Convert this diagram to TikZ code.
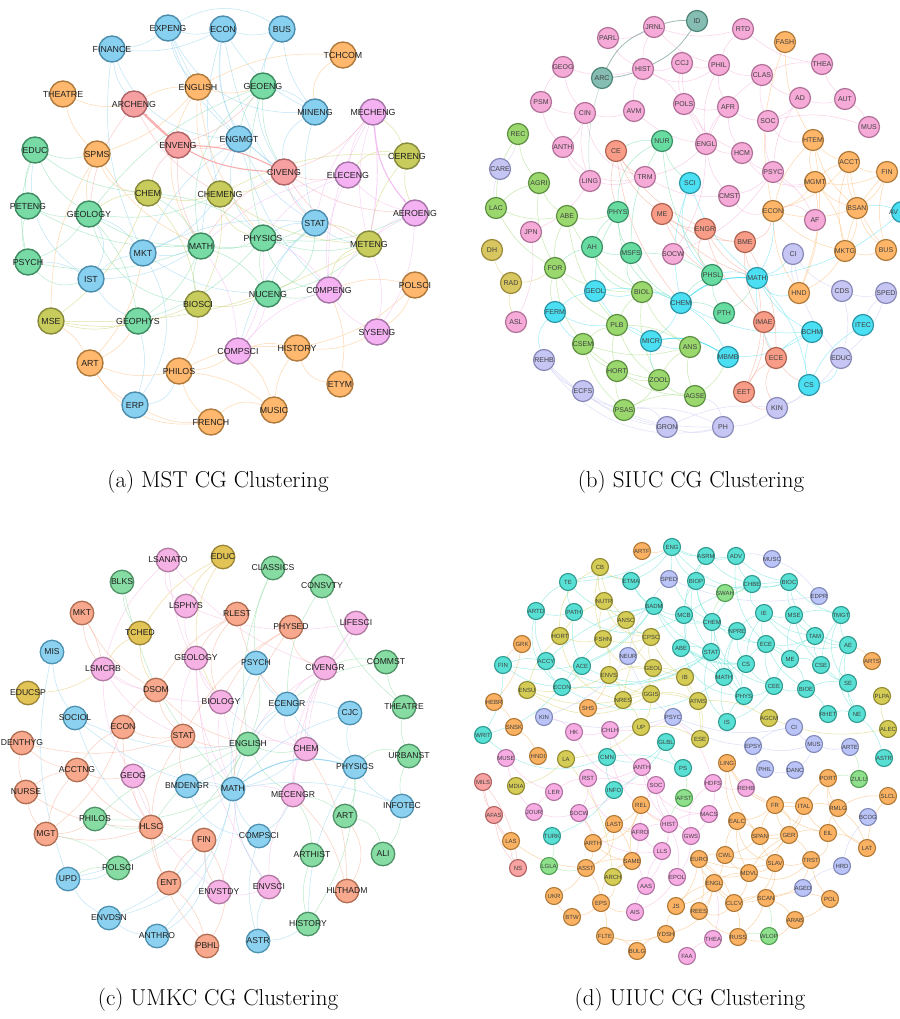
\documentclass[tikz,border=0pt]{standalone}
\usepackage{fontspec}
\newfontfamily\labf{Liberation Sans}
\usetikzlibrary{backgrounds,arrows.meta}
% panel a
\definecolor{aBf}{HTML}{88D0F0}\definecolor{aBd}{HTML}{4C8DAE}
\definecolor{aGf}{HTML}{78DBA6}\definecolor{aGd}{HTML}{3F8C62}
\definecolor{aOf}{HTML}{FFB86E}\definecolor{aOd}{HTML}{B07A3C}
\definecolor{aRf}{HTML}{F6A0A2}\definecolor{aRd}{HTML}{B06466}
\definecolor{aVf}{HTML}{F4B2F2}\definecolor{aVd}{HTML}{A674A6}
\definecolor{aYf}{HTML}{C8CC5C}\definecolor{aYd}{HTML}{878A3A}
% panel b
\definecolor{bPf}{HTML}{F6AAD8}\definecolor{bPd}{HTML}{B27198}
\definecolor{bTf}{HTML}{86BDB2}\definecolor{bTd}{HTML}{4E8578}
\definecolor{bOf}{HTML}{FFB668}\definecolor{bOd}{HTML}{B07A3A}
\definecolor{bSf}{HTML}{F89C88}\definecolor{bSd}{HTML}{B06452}
\definecolor{bMf}{HTML}{66DCA0}\definecolor{bMd}{HTML}{3C9068}
\definecolor{bCf}{HTML}{4ADFF2}\definecolor{bCd}{HTML}{2A98A8}
\definecolor{bGf}{HTML}{9AD86E}\definecolor{bGd}{HTML}{5E9042}
\definecolor{bLf}{HTML}{C6C6F4}\definecolor{bLd}{HTML}{8A8AB8}
\definecolor{bYf}{HTML}{D8C660}\definecolor{bYd}{HTML}{9A8A3A}
% panel c
\definecolor{cPf}{HTML}{F6B2E4}\definecolor{cPd}{HTML}{B07AA2}
\definecolor{cSf}{HTML}{F8A88C}\definecolor{cSd}{HTML}{B06E52}
\definecolor{cYf}{HTML}{E2C456}\definecolor{cYd}{HTML}{9C8636}
\definecolor{cGf}{HTML}{86DCA2}\definecolor{cGd}{HTML}{4E9266}
\definecolor{cBf}{HTML}{8CD2F0}\definecolor{cBd}{HTML}{4E90B0}
% panel d
\definecolor{dCf}{HTML}{58E0D4}\definecolor{dCd}{HTML}{2E9A90}
\definecolor{dYf}{HTML}{D4CC54}\definecolor{dYd}{HTML}{928A30}
\definecolor{dLf}{HTML}{BAC4F8}\definecolor{dLd}{HTML}{8088B8}
\definecolor{dOf}{HTML}{FAB262}\definecolor{dOd}{HTML}{B07834}
\definecolor{dPf}{HTML}{F8ACE4}\definecolor{dPd}{HTML}{B072A0}
\definecolor{dGf}{HTML}{8EE08C}\definecolor{dGd}{HTML}{50A052}
\definecolor{dSf}{HTML}{F8A2A2}\definecolor{dSd}{HTML}{B06262}
\newcommand\mynodes[5]{\foreach \n/\x/\y in {#5} {\node[#2, fill=#3f, draw=#3d, label={[#4]center:\n}] (#1-\n) at (\x,\y) {};}}
\newcommand\myedges[3]{\foreach \p/\q in {#3} {\draw[ed=#2] (#1-\p) to[bend right=15] (#1-\q);}}
\newcommand\myarcs[3]{\foreach \p/\q in {#3} {\draw[ed=#2] (#1-\p) to[bend right=32] (#1-\q);}}
\tikzset{
  na/.style={circle, minimum size=26pt, inner sep=0pt, line width=1.4pt},
  nb/.style={circle, minimum size=21pt, inner sep=0pt, line width=1.2pt},
  nc/.style={circle, minimum size=23.5pt, inner sep=0pt, line width=1.3pt},
  nd/.style={circle, minimum size=17pt, inner sep=0pt, line width=1.1pt},
  la/.style={font=\labf\fontsize{8.8}{9}\selectfont, text=black!88, inner sep=0pt},
  lb/.style={font=\labf\fontsize{7}{7}\selectfont, text=black!75, inner sep=0pt},
  lc/.style={font=\labf\fontsize{8.6}{9}\selectfont, text=black!88, inner sep=0pt},
  ld/.style={font=\labf\fontsize{6}{6}\selectfont, text=black!75, inner sep=0pt},
  ed/.style={draw=#1, line width=0.5pt, draw opacity=0.55},
  hl/.style={draw=#1, line width=1.1pt, draw opacity=0.85, -{Stealth[length=4pt,width=3pt]}},
  captxt/.style={font=\fontsize{23}{26}\selectfont, inner sep=0pt}
}
\begin{document}
\begin{tikzpicture}[x=1pt,y=-1pt]
\begin{scope}[on background layer]
\fill[white] (0,0) rectangle (899,1019);
\end{scope}
\useasboundingbox (0,0) rectangle (899,1019);
% ================= (a) =================
\mynodes{a}{na}{aB}{la}{EXPENG/168/28, ECON/223/29, BUS/282/29, FINANCE/112/49, MINENG/315/112, ENGMGT/239/139, STAT/315/223, MKT/143/253, IST/91/279, ERP/135/405}
\mynodes{a}{na}{aO}{la}{TCHCOM/343/55, THEATRE/63/94, ENGLISH/198/87, SPMS/97/154, POLSCI/415/285, HISTORY/297/348, ART/90/363, PHILOS/179/371, ETYM/340/384, MUSIC/274/410, FRENCH/211/422}
\mynodes{a}{na}{aG}{la}{GEOENG/263/86, EDUC/35/150, PETENG/28/206, GEOLOGY/89/214, PHYSICS/263/238, MATH/201/246, PSYCH/28/262, NUCENG/268/294, GEOPHYS/138/321}
\mynodes{a}{na}{aR}{la}{ARCHENG/134/104, ENVENG/178/145, CIVENG/284/172}
\mynodes{a}{na}{aV}{la}{MECHENG/373/112, ELECENG/348/175, AEROENG/415/213, COMPENG/329/290, SYSENG/377/332, COMPSCI/238/351}
\mynodes{a}{na}{aY}{la}{CERENG/407/156, CHEM/148/193, CHEMENG/220/194, METENG/369/244, BIOSCI/198/304, MSE/51/321}
% ================= (b) =================
\mynodes{b}{nb}{bP}{lb}{JRNL/654/27, RTD/743/29, PARL/608/38, GEOG/563/67, HIST/643/69, CCJ/682/63, PHIL/719/65, CLAS/762/75, THEA/822/64, PSM/541/102, AD/800/98, AUT/845/99, CIN/585/113, AVM/634/111, POLS/684/104, AFR/728/107, SOC/768/121, MUS/869/127, ANTH/563/147, ENGL/706/144, HCM/742/153, LING/590/181, TRM/645/177, PSYC/773/172, CMST/729/196, AF/815/220, JPN/531/232, SOCW/673/254, ASL/516/322}
\mynodes{b}{nb}{bT}{lb}{ID/697/21, ARC/602/78}
\mynodes{b}{nb}{bO}{lb}{FASH/785/42, HTEM/813/140, ACCT/849/162, FIN/887/172, MGMT/815/182, ECON/773/211, BSAN/857/208, MKTG/845/251, BUS/886/250, HND/799/293}
\mynodes{b}{nb}{bS}{lb}{CE/616/151, ME/662/214, ENGR/705/229, BME/745/242, IMAE/764/322, ECE/776/358, EET/744/392}
\mynodes{b}{nb}{bM}{lb}{NUR/662/141, PHYS/618/212, AH/592/247, MSFS/631/253, PHSL/712/275, PTH/724/313}
\mynodes{b}{nb}{bC}{lb}{SCI/690/183, GEOL/595/291, CHEM/681/303, MATH/757/278, FERM/555/312, MICR/651/341, BCHM/812/332, MBMB/728/357, CS/809/385, ITEC/863/325}
\node[nb, fill=bCf, draw=bCd] (b-AV) at (902,212) {};
\node[lb, anchor=west] (b-AVt) at (889,212) {AV};
\mynodes{b}{nb}{bG}{lb}{REC/518/134, AGRI/539/183, LAC/496/208, ABE/567/216, FOR/555/268, BIOL/642/292, PLB/617/325, CSEM/583/344, ANS/690/347, HORT/617/371, ZOOL/659/380, AGSE/695/396, PSAS/624/410}
\mynodes{b}{nb}{bL}{lb}{CARE/500/169, CI/793/254, CDS/842/291, SPED/886/293, EDUC/841/358, REHB/544/360, ECFS/583/391, KIN/777/408, GRON/667/427, PH/723/427}
\mynodes{b}{nb}{bY}{lb}{DH/492/250, RAD/511/283}
% ================= (c) =================
\mynodes{c}{nc}{cP}{lc}{LSANATO/168/560, LSPHYS/186/606, LIFESCI/356/623, GEOLOGY/196/658, CIVENGR/325/668, LSMCRB/103/669, BIOLOGY/221/702, CHEM/306/749, GEOG/133/776, MECENGR/293/795, ENVSTDY/219/892, ENVSCI/269/887}
\mynodes{c}{nc}{cY}{lc}{EDUC/223/557, TCHED/140/633, EDUCSP/28/693}
\mynodes{c}{nc}{cG}{lc}{CLASSICS/273/568, BLKS/122/582, CONSVTY/322/586, COMMST/386/662, THEATRE/404/707, ENGLISH/248/744, URBANST/409/756, ART/345/816, PHILOS/95/819, ARTHIST/312/855, ALI/383/854, POLSCI/118/868, HISTORY/308/924}
\mynodes{c}{nc}{cS}{lc}{MKT/82/613, RLEST/237/614, PHYSED/291/627, DSOM/156/690, ECON/123/727, STAT/183/736, DENTHYG/22/743, ACCTNG/77/770, NURSE/26/792, HLSC/151/827, MGT/46/834, FIN/204/840, ENT/169/883, HLTHADM/347/891, PBHL/207/946}
\mynodes{c}{nc}{cB}{lc}{MIS/52/652, PSYCH/256/663, ECENGR/287/704, CJC/350/713, SOCIOL/75/718, PHYSICS/355/767, BMDENGR/187/786, MATH/233/789, INFOTEC/402/806, COMPSCI/259/836, UPD/68/879, ENVDSN/109/918, ANTHRO/157/936, ASTR/258/941}
% ================= (d) =================
\mynodes{d}{nd}{dC}{ld}{ENG/672/547, TE/568/582, ETMA/631/581, BADM/654/606, ARTD/536/611, PATH/574/612, ACCY/546/661, ACE/582/666, FIN/503/665, ECON/562/687, WRIT/483/735, CMN/607/757, GLBL/666/742, INFO/614/790, TURK/552/836, ASRM/706/556, ADV/736/556, BIOP/696/581, CHBE/752/584, BIOC/789/582, MCB/684/615, IE/764/613, MSE/794/615, TMGT/841/615, CHEM/712/622, NPRE/737/631, TAM/815/636, AE/848/645, ECE/766/644, ABE/681/648, STAT/711/652, ME/790/659, CS/746/664, CSE/821/665, MATH/724/677, CEE/774/686, BIOE/806/689, SE/848/683, PHYS/744/696, IS/727/722, RHET/828/714, NE/857/714, PS/683/768, ASTR/884/758}
\mynodes{d}{nd}{dY}{ld}{CB/600/567, NUTR/604/601, ANSC/626/620, HORT/560/636, FSHN/603/639, CPSC/651/637, GEOL/653/668, ENVS/609/675, ENSU/527/690, NRES/623/700, GGIS/651/694, UP/641/727, LA/566/759, MDIA/516/786, ARCH/613/877, IB/685/677, ATMS/698/701, AGCM/769/718, PLPA/882/696, ALEC/888/729, ESE/700/739}
\mynodes{d}{nd}{dL}{ld}{SPED/669/579, NEUR/628/656, KIN/544/717, PSYC/673/717, MUSC/772/559, EDPR/819/596, CI/794/727, EPSY/753/746, MUS/814/744, ARTE/850/747, PHIL/765/769, DANC/795/770, BCOG/868/817, HRD/842/866, AGED/803/888}
\mynodes{d}{nd}{dO}{ld}{ARTF/642/551, GRK/522/644, HEBR/494/702, SHS/588/708, SNSK/514/727, HNDI/538/756, REL/641/805, LAST/614/824, ARTH/593/843, LAS/511/841, SAME/632/861, ASST/586/868, UKR/554/896, EPS/601/903, BTW/572/917, FLTE/605/936, YDSH/666/934, BULG/637/951, JS/676/906, ARTS/872/661, LING/727/763, PORT/828/778, SLCL/888/796, FR/775/805, ITAL/804/806, RMLG/838/808, EALC/737/821, SPAN/760/836, GER/789/835, EIL/828/833, LAT/867/848, EURO/699/859, CWL/725/855, SLAV/775/863, TRST/811/860, MDVL/749/873, ENGL/714/883, POL/830/899, SCAN/766/898, CLCV/734/903, REES/699/911, ARAB/795/920, RUSS/738/937}
\mynodes{d}{nd}{dP}{ld}{HK/574/732, CHLH/610/730, MUSE/506/758, RST/588/778, LER/554/792, JOUR/534/812, SOCW/579/813, ANTH/642/767, SOC/656/785, AFRO/640/832, HIST/669/824, LLS/662/851, AAS/646/886, AIS/635/912, EPOL/677/877, HDFS/713/783, REHB/746/788, MACS/709/814, GWS/691/836, THEA/713/939, FAA/687/956}
\mynodes{d}{nd}{dG}{ld}{SWAH/725/593, LGLA/549/866, AFST/684/798, ZULU/859/779, WLOP/769/936}
\mynodes{d}{nd}{dS}{ld}{MILS/483/782, AFAS/494/815, NS/518/868}
% ================= captions =================
\node[captxt] (capa) at (218,482) {(a) MST CG Clustering};
\node[captxt] (capb) at (691,482) {(b) SIUC CG Clustering};
\node[captxt] (capc) at (218,1000) {(c) UMKC CG Clustering};
\node[captxt] (capd) at (690,1000) {(d) UIUC CG Clustering};
% ================= edges =================
\begin{scope}[on background layer]
% (a)
\myedges{a}{aBf}{EXPENG/ECON, ECON/BUS, FINANCE/EXPENG, FINANCE/ARCHENG, ECON/ENGMGT, ECON/MINENG, BUS/MINENG, EXPENG/ENGMGT, EXPENG/CIVENG, ENGMGT/STAT, STAT/MKT, MKT/IST, IST/PSYCH, MKT/MATH, STAT/PHYSICS, ERP/GEOPHYS, MKT/GEOLOGY, STAT/NUCENG, ENGMGT/MATH, MINENG/GEOENG, ECON/CHEMENG, BUS/GEOENG, STAT/COMPSCI, IST/MATH, MKT/CHEMENG, FINANCE/ECON, FINANCE/MKT, ENGMGT/MKT, MINENG/STAT, EXPENG/ENGLISH, ECON/STAT, IST/GEOPHYS, MKT/NUCENG, STAT/METENG, ENGMGT/COMPENG}
\myarcs{a}{aBf}{EXPENG/MINENG, ECON/CIVENG, BUS/CIVENG, FINANCE/ENGMGT, ENGMGT/PHYSICS, MINENG/CIVENG, IST/GEOLOGY, ERP/MKT, ERP/PHILOS, EDUC/IST}
\draw[ed=aBf] (a-EXPENG) to[bend left=30] (a-BUS);
\myedges{a}{aOf}{TCHCOM/ENGLISH, THEATRE/SPMS, SPMS/ENGLISH, ENGLISH/ARCHENG, HISTORY/POLSCI, HISTORY/SYSENG, POLSCI/COMPENG, HISTORY/MUSIC, HISTORY/PHILOS, PHILOS/FRENCH, ART/PHILOS, ERP/FRENCH, ART/MSE, ETYM/COMPENG, MUSIC/PHILOS, SPMS/GEOLOGY, ART/GEOPHYS, PHILOS/COMPSCI, HISTORY/COMPSCI, THEATRE/ARCHENG, SPMS/MSE, ENGLISH/CHEMENG, ENGLISH/GEOENG, SYSENG/POLSCI, ART/ERP, MUSIC/COMPSCI, ART/MKT, SPMS/MATH, ENGLISH/PHYSICS, PHILOS/BIOSCI}
\myarcs{a}{aOf}{TCHCOM/MINENG, HISTORY/ETYM, MUSIC/FRENCH, ART/FRENCH, ENGLISH/MATH, SPMS/CHEM}
\myedges{a}{aGf}{EDUC/PETENG, EDUC/SPMS, EDUC/GEOLOGY, PETENG/GEOLOGY, PSYCH/GEOLOGY, PETENG/PSYCH, GEOLOGY/MATH, MATH/PHYSICS, PHYSICS/NUCENG, MATH/BIOSCI, GEOPHYS/GEOLOGY, GEOPHYS/MATH, GEOENG/ENGMGT, GEOENG/CIVENG, NUCENG/MATH, PHYSICS/CHEM, MATH/CHEM, GEOENG/GEOLOGY, NUCENG/COMPENG, PHYSICS/METENG, MATH/STAT, GEOLOGY/CHEMENG, PSYCH/MATH, GEOPHYS/PHYSICS, EDUC/CHEM, PHYSICS/AEROENG, PETENG/MATH, GEOENG/PHYSICS, NUCENG/METENG, EDUC/PSYCH}
\myarcs{a}{aGf}{GEOENG/MATH, PHYSICS/STAT, NUCENG/STAT, PHYSICS/COMPENG, PSYCH/IST, GEOLOGY/BIOSCI}
\myedges{a}{aRf}{ENVENG/ENGMGT, CIVENG/MECHENG, CIVENG/ELECENG, CIVENG/STAT, CIVENG/METENG, ENVENG/CHEM, ARCHENG/GEOLOGY, CIVENG/MATH, ENVENG/MATH, ARCHENG/CHEMENG, CIVENG/AEROENG, ENVENG/GEOENG}
\myedges{a}{aVf}{MECHENG/ELECENG, MECHENG/COMPENG, ELECENG/COMPENG, AEROENG/METENG, COMPENG/SYSENG, COMPENG/COMPSCI, COMPSCI/MATH, COMPSCI/PHYSICS, ELECENG/AEROENG, SYSENG/AEROENG, MECHENG/METENG, COMPSCI/NUCENG, ELECENG/PHYSICS, COMPENG/PHYSICS, MECHENG/STAT, ELECENG/MATH, AEROENG/COMPENG, SYSENG/METENG}
\myedges{a}{aYf}{CERENG/METENG, CERENG/AEROENG, CHEM/CHEMENG, CHEMENG/METENG, MSE/CHEM, BIOSCI/CHEM, MSE/BIOSCI, MSE/GEOPHYS, CERENG/MECHENG, CHEMENG/CIVENG, BIOSCI/CHEMENG, CERENG/CHEMENG, MSE/METENG, CHEM/GEOLOGY, BIOSCI/NUCENG, METENG/STAT}
\myarcs{a}{aYf}{CHEMENG/PHYSICS, CERENG/ELECENG, METENG/COMPENG}
\draw[hl=aRf] (a-ARCHENG) to[bend right=22] (a-CIVENG);
\draw[hl=aRf] (a-ENVENG) -- (a-ARCHENG);
\draw[hl=aRf] (a-CIVENG) to[bend right=12] (a-ENVENG);
\draw[hl=aVf] (a-MECHENG) to[bend right=18] (a-AEROENG);
\draw[ed=aVf, line width=0.9pt] (a-MECHENG) to[bend left=8] (a-METENG);
% (b)
\myedges{b}{bPf}{JRNL/HIST, JRNL/RTD, PARL/HIST, GEOG/HIST, HIST/CCJ, CCJ/PHIL, PHIL/CLAS, CLAS/AD, AD/AUT, THEA/CLAS, POLS/AFR, POLS/HIST, AFR/SOC, SOC/PSYC, ENGL/HCM, ENGL/POLS, ENGL/CMST, HCM/PSYC, PSM/CIN, PSM/ANTH, ANTH/LING, CIN/AVM, AVM/ENGL, LING/TRM, TRM/CMST, PHIL/AFR, CCJ/POLS, SOC/AD, MUS/AUT, RTD/PHIL, GEOG/CIN, JPN/LING, ASL/JPN, SOCW/PSYC, AF/PSYC, CMST/PSYC, HIST/AVM, CCJ/ENGL, PHIL/ENGL, RTD/THEA, AFR/ENGL, THEA/AUT, MUS/SOC, JRNL/PHIL, GEOG/PSM, CIN/LING, POLS/HCM, CLAS/SOC, AFR/HCM, ANTH/CIN, PARL/JRNL, TRM/ENGL, SOCW/ENGL, CLAS/ENGL, AD/PSYC}
\myarcs{b}{bPf}{PSYC/MGMT, AF/ECON, SOC/HTEM, CMST/ECON, HCM/MGMT, HIST/PHIL, CIN/TRM, ANTH/TRM}
\myedges{b}{bOf}{FASH/HTEM, HTEM/ACCT, HTEM/MGMT, ACCT/FIN, ACCT/MGMT, MGMT/BSAN, BSAN/FIN, BSAN/BUS, MKTG/BUS, MKTG/MGMT, MKTG/BSAN, ECON/MGMT, ECON/ACCT, ECON/BSAN, HND/HTEM, HND/MGMT, FIN/BUS, ACCT/BSAN, ECON/MKTG, HTEM/ECON, FIN/MKTG, ACCT/BUS, MGMT/FIN, HND/MKTG, ECON/HND, HTEM/BSAN, FASH/ECON, ACCT/MKTG}
\myedges{b}{bSf}{CE/ME, ME/ENGR, ENGR/BME, BME/IMAE, IMAE/ECE, ECE/EET, CE/ENGR, ME/BME, ECE/BME, EET/IMAE, CE/PHYS, ME/MATH, ENGR/MATH, ECE/CS, CE/CHEM, ENGR/IMAE, BME/MATH, EET/MATH, CE/TRM, ME/PHSL}
\myarcs{b}{bSf}{BME/ECON, ENGR/PHSL, EET/KIN, ECE/KIN}
\myedges{b}{bMf}{NUR/PHSL, PHYS/AH, AH/MSFS, PHSL/PTH, PHSL/CHEM, PTH/MATH, NUR/MSFS, PHYS/MSFS, PHSL/MSFS, AH/FOR, NUR/SCI, PTH/CHEM, MSFS/CHEM, PHYS/GEOL, NUR/CE}
\myarcs{b}{bMf}{PHYS/CHEM, AH/BIOL, MSFS/BIOL, NUR/PHYS}
\myedges{b}{bCf}{SCI/CHEM, MATH/BCHM, BCHM/CS, MICR/CHEM, CHEM/GEOL, GEOL/FERM, FERM/PLB, MBMB/BCHM, MATH/PHSL, CHEM/BCHM, MATH/ECE, CS/MATH, ITEC/CS, MICR/PLB, CHEM/BIOL, GEOL/BIOL, MICR/ANS, MBMB/CHEM, MATH/ECON, AV/BSAN, MATH/CI, SCI/MATH, FERM/CSEM, MICR/ZOOL, BCHM/ECE, GEOL/MICR, MATH/AV}
\myarcs{b}{bCf}{SCI/PHSL, CS/EDUC, MATH/HND, FERM/REHB}
\myedges{b}{bGf}{REC/AGRI, REC/LAC, AGRI/ABE, LAC/ABE, AGRI/LAC, ABE/FOR, FOR/FERM, FOR/BIOL, BIOL/PLB, PLB/CSEM, PLB/HORT, CSEM/HORT, HORT/ZOOL, ZOOL/AGSE, HORT/PSAS, PSAS/ZOOL, CSEM/PSAS, ANS/ZOOL, ANS/PLB, AGSE/PSAS, PLB/ZOOL, ANS/AGSE, BIOL/ZOOL, CSEM/ZOOL, FOR/PLB, ABE/PLB, AGRI/FOR, LAC/FOR, ABE/BIOL, CSEM/ANS, HORT/AGSE, BIOL/ANS, FOR/CSEM, ABE/PHYS, AGSE/MBMB}
\myedges{b}{bLf}{REHB/ECFS, ECFS/GRON, GRON/PH, PH/KIN, KIN/EDUC, EDUC/CDS, CDS/SPED, SPED/ITEC, CI/CDS, CI/EDUC, CI/HND, EDUC/SPED, REHB/GRON, KIN/GRON, ECFS/PH, CARE/LAC, CARE/REC, REHB/PSAS, KIN/CS, PH/PSAS}
\myarcs{b}{bLf}{GRON/PSAS, PH/AGSE, REHB/PH}
\myedges{b}{bYf}{DH/RAD, RAD/FOR, RAD/ASL}
\draw[ed=bTd, line width=0.8pt] (b-ID) to[bend right=10] (b-JRNL);
\draw[ed=bTd, line width=0.8pt] (b-ID) to[bend left=15] (b-HIST);
\draw[ed=bTd, line width=0.8pt] (b-ARC) to[bend right=8] (b-HIST);
\draw[ed=bTd, line width=0.8pt] (b-ARC) to[bend left=20] (b-JRNL);
\draw[ed=bTf] (b-ARC) to[bend right=10] (b-LING);
\draw[ed=bCf, line width=1pt, draw opacity=0.85] (b-CHEM) to[bend left=20] (b-MATH);
\draw[ed=bCf, line width=1pt, draw opacity=0.85] (b-MICR) to[bend left=20] (b-MBMB);
% (c)
\myedges{c}{cPf}{LSANATO/BIOLOGY, LSPHYS/GEOLOGY, LSPHYS/LIFESCI, LSMCRB/BIOLOGY, LSMCRB/GEOG, GEOLOGY/BIOLOGY, GEOLOGY/STAT, BIOLOGY/CHEM, CIVENGR/MECENGR, CIVENGR/CHEM, CIVENGR/LIFESCI, CHEM/MECENGR, MECENGR/ENVSCI, ENVSTDY/ENVSCI, ENVSTDY/BIOLOGY, GEOG/ENVSTDY, GEOLOGY/ENVSCI, LSMCRB/DSOM, CIVENGR/ENGLISH, MECENGR/MATH, CHEM/ENGLISH, BIOLOGY/MATH, GEOG/HLSC, LIFESCI/CHEM, LSANATO/LSMCRB, LSMCRB/STAT, GEOLOGY/MATH, CIVENGR/ECENGR, LIFESCI/MECENGR, LSANATO/CIVENGR}
\myarcs{c}{cPf}{LSANATO/LSPHYS, ECENGR/CHEM}
\myedges{c}{cSf}{MKT/DSOM, MKT/LSMCRB, RLEST/DSOM, PHYSED/STAT, PHYSED/BIOLOGY, DSOM/STAT, DSOM/ECON, ECON/STAT, STAT/HLSC, DENTHYG/ACCTNG, ACCTNG/NURSE, NURSE/MGT, MGT/HLSC, HLSC/FIN, HLSC/ENT, HLSC/PBHL, ACCTNG/HLSC, ACCTNG/MGT, NURSE/HLSC, FIN/ENT, PBHL/ENT, HLTHADM/MECENGR, HLTHADM/CHEM, DENTHYG/STAT, ECON/HLSC, STAT/ENGLISH, RLEST/ECENGR, MGT/ECON, FIN/ENVSTDY, DSOM/ENGLISH, DENTHYG/NURSE, ACCTNG/GEOG, MGT/PHILOS, STAT/BMDENGR, HLSC/GEOG, ECON/ACCTNG, PHYSED/MATH, RLEST/GEOLOGY}
\myarcs{c}{cSf}{RLEST/BIOLOGY, PHYSED/CIVENGR, PBHL/FIN, HLTHADM/ART}
\draw[ed=cSf] (c-LSMCRB) to[bend right=10] (c-MKT);
\myedges{c}{cYf}{EDUC/TCHED, TCHED/LSMCRB, EDUCSP/LSMCRB, TCHED/DSOM, EDUC/LSPHYS}
\myarcs{c}{cYf}{EDUC/BIOLOGY}
\myedges{c}{cGf}{BLKS/TCHED, BLKS/MATH, CLASSICS/PSYCH, CONSVTY/THEATRE, CONSVTY/ECENGR, COMMST/THEATRE, COMMST/CIVENGR, THEATRE/URBANST, URBANST/INFOTEC, ENGLISH/MATH, ENGLISH/PHILOS, PHILOS/HLSC, ARTHIST/HISTORY, ALI/INFOTEC, ART/MECENGR, ARTHIST/MECENGR, POLSCI/ENGLISH, POLSCI/MGT, HISTORY/PHYSICS, POLSCI/UPD, PHILOS/MATH, COMMST/ECENGR, ENGLISH/CHEM, ART/PHYSICS, ENGLISH/MECENGR, ENGLISH/PSYCH, CLASSICS/ENGLISH, ENGLISH/HLSC}
\myarcs{c}{cGf}{URBANST/PHYSICS, ALI/ART}
\myedges{c}{cBf}{MIS/SOCIOL, MIS/UPD, SOCIOL/MATH, SOCIOL/HLSC, PSYCH/MATH, ECENGR/MATH, ECENGR/ENGLISH, ECENGR/PHYSICS, CJC/MATH, CJC/PHYSICS, MATH/BMDENGR, BMDENGR/ENGLISH, MATH/COMPSCI, COMPSCI/ASTR, ASTR/HISTORY, ENVSCI/ASTR, UPD/ENVDSN, ENVDSN/ANTHRO, ENVDSN/FIN, ANTHRO/MATH, PHYSICS/INFOTEC, INFOTEC/MATH, COMPSCI/MECENGR, UPD/POLSCI, PHYSICS/HISTORY, MATH/CHEM, PSYCH/ECENGR, MATH/ENVSCI, CJC/ECENGR, SOCIOL/ENGLISH, UPD/MATH}
\myarcs{c}{cBf}{BMDENGR/COMPSCI, ENVDSN/MATH, ANTHRO/FIN}
\draw[ed=cBf, line width=1pt, draw opacity=0.85] (c-MATH) to[bend left=25] (c-PHYSICS);
% (d)
\myedges{d}{dCf}{ENG/ASRM, ENG/BIOP, ASRM/ADV, BIOP/CHBE, CHBE/BIOC, BIOC/MSE, MCB/CHEM, CHEM/NPRE, NPRE/ECE, IE/ECE, IE/MSE, MSE/TAM, TAM/CSE, TAM/AE, AE/SE, SE/NE, NE/RHET, CSE/ME, ME/ECE, ECE/CS, CS/MATH, MATH/STAT, STAT/ABE, STAT/CHEM, CS/PHYS, PHYS/CEE, CEE/BIOE, BIOE/ME, CSE/SE, MATH/PHYS, PHYS/IS, IS/CEE, CHEM/MATH, NPRE/MATH, ECE/CEE, IE/CS, MSE/ME, TAM/ME, ABE/MCB, BADM/ACCY, BADM/ECON, ACCY/FIN, ACCY/ECON, ECON/ACE, ACE/BADM, TE/ARTD, TE/PATH, ARTD/PATH, ETMA/ENG, ETMA/TE, BADM/MCB, CMN/INFO, INFO/GLBL, GLBL/PS, PS/CMN, TMGT/AE, TMGT/MSE, BIOC/MCB, CHBE/CHEM, ADV/BIOC, ASRM/MCB, NPRE/CS, ECE/BIOE, STAT/CS, ABE/CS, BIOP/MCB, CHEM/ECE, MATH/IS, IE/TAM, BADM/STAT, ECON/STAT, FIN/ECON, WRIT/ECON, TMGT/CSE, SE/BIOE, RHET/BIOE, NE/CSE, ASTR/NE, ADV/CHBE, IE/NPRE, ME/CEE, ECE/TAM, MSE/CSE, ARTD/ACCY, PATH/ACE, ETMA/BADM, BIOP/CHEM, ENG/ADV, TE/ENG, ASRM/CHBE, BIOC/TMGT, CS/CEE, PHYS/STAT, MATH/ABE, TURK/INFO, WRIT/FIN}
\myarcs{d}{dCf}{ENG/CHEM, ADV/ME, CHBE/IE, BIOP/NPRE, ASRM/STAT, MCB/MATH, BADM/CS, ECON/MATH, ACE/STAT, ACCY/STAT, FIN/BADM, TE/BADM, ARTD/ECON, PATH/MCB, ETMA/CHEM, ENG/BIOC, BIOC/AE, TMGT/SE, AE/NE, IE/AE, CHEM/CEE, NPRE/PHYS, STAT/IS, ABE/PHYS, CMN/GLBL, WRIT/CMN}
\myedges{d}{dYf}{CB/NUTR, NUTR/ANSC, ANSC/FSHN, FSHN/CPSC, CPSC/GEOL, GEOL/GGIS, GGIS/NRES, NRES/ENVS, ENVS/FSHN, HORT/FSHN, HORT/ENSU, ENSU/ENVS, IB/GEOL, IB/ATMS, ATMS/GGIS, UP/NRES, UP/GGIS, ESE/ATMS, ESE/UP, AGCM/ALEC, LA/UP, MDIA/LA, ARCH/LA, NUTR/FSHN, ANSC/CPSC, CPSC/NRES, ENVS/GGIS, NUTR/HORT, CB/ANSC, GEOL/ENVS, IB/NRES, ATMS/NRES, PLPA/ALEC, AGCM/ATMS, CB/FSHN, CPSC/IB, ENSU/NRES, ESE/IB, CB/ETMA}
\myarcs{d}{dYf}{NUTR/CPSC, HORT/NRES, ENSU/GGIS, FSHN/GEOL, ANSC/IB, CB/HORT}
\myedges{d}{dLf}{NEUR/PSYC, PSYC/EPSY, EPSY/PHIL, PHIL/DANC, DANC/MUS, MUS/ARTE, CI/EPSY, CI/MUS, HRD/AGED, BCOG/HRD, KIN/NEUR, EDPR/MUSC, PSYC/CI, SPED/NEUR, SPED/EDPR, KIN/PSYC, EPSY/MUS, MUSC/ADV}
\myedges{d}{dPf}{HK/CHLH, CHLH/ANTH, ANTH/SOC, SOC/HIST, HIST/AFRO, AFRO/LLS, LLS/AAS, AAS/AIS, AIS/EPOL, EPOL/GWS, GWS/MACS, MACS/HDFS, HDFS/REHB, MUSE/JOUR, JOUR/SOCW, SOCW/RST, RST/LER, LER/JOUR, ANTH/HIST, SOC/AFRO, GWS/HIST, THEA/FAA, HK/KIN, CHLH/PSYC, SOCW/ANTH, HDFS/PSYC, MACS/HIST, AAS/HIST, LLS/HIST, AFRO/AAS, EPOL/HIST, RST/ANTH, MUSE/LER, SOC/GWS, THEA/ENGL}
\myarcs{d}{dPf}{HK/SOC, CHLH/HIST, RST/AFRO, SOCW/LLS, ANTH/MACS, HDFS/GWS}
\myedges{d}{dOf}{SPAN/GER, GER/ITAL, ITAL/FR, FR/SPAN, SPAN/EALC, EALC/CWL, CWL/EURO, EURO/ENGL, ENGL/CLCV, CLCV/MDVL, MDVL/SLAV, SLAV/TRST, TRST/GER, RMLG/ITAL, RMLG/EIL, EIL/GER, PORT/ITAL, PORT/RMLG, LAT/EIL, SLCL/RMLG, SCAN/SLAV, SCAN/CLCV, REES/RUSS, RUSS/CLCV, ARAB/SCAN, POL/SCAN, REES/ENGL, REES/EURO, JS/EURO, YDSH/BULG, FLTE/EPS, EPS/ASST, ASST/ARTH, ARTH/LAST, LAST/REL, SAME/ASST, SAME/LAST, UKR/ASST, BTW/EPS, SNSK/HEBR, HEBR/GRK, SHS/NRES, LING/SPAN, LING/FR, MDVL/ENGL, CWL/SPAN, CWL/MDVL, EURO/SLAV, TRST/POL, FR/EIL, GER/SLAV, EALC/FR, JS/YDSH, SAME/ARCH, ARTH/SOCW, LAST/AFRO, REL/HIST, LAT/RMLG, SLCL/LAT, ARAB/POL, RUSS/SCAN, CLCV/EURO, ENGL/JS, BULG/FLTE, UKR/BTW, LAS/ASST, HNDI/SNSK, GRK/FIN, SHS/ENVS, ARTS/AE, EALC/MDVL, SPAN/SLAV, ITAL/EIL, GER/MDVL, REL/SAME, FLTE/YDSH, EPS/AIS, ARTH/SAME, LING/EALC, FR/GER, ARTF/ENG}
\myarcs{d}{dOf}{SPAN/ITAL, GER/FR, EALC/SLAV, CWL/GER, EURO/MDVL, ENGL/SCAN, CLCV/SLAV, REES/CLCV, RUSS/ARAB, JS/CWL, YDSH/ENGL, SAME/EPS, ASST/LAST, ARTH/REL, EPS/ARCH, LING/ITAL, TRST/EIL, PORT/LAT, MDVL/TRST, SCAN/TRST}
\myedges{d}{dSf}{MILS/AFAS, AFAS/LAS, LAS/NS, NS/MILS, AFAS/NS, MILS/LAS}
\myedges{d}{dGf}{SWAH/CHBE, LGLA/ASST, LGLA/TURK, AFST/PS, AFST/HIST, ZULU/PORT, ZULU/ARTE, WLOP/SCAN, WLOP/RUSS, SWAH/CHEM}
\end{scope}
\end{tikzpicture}
\end{document}
